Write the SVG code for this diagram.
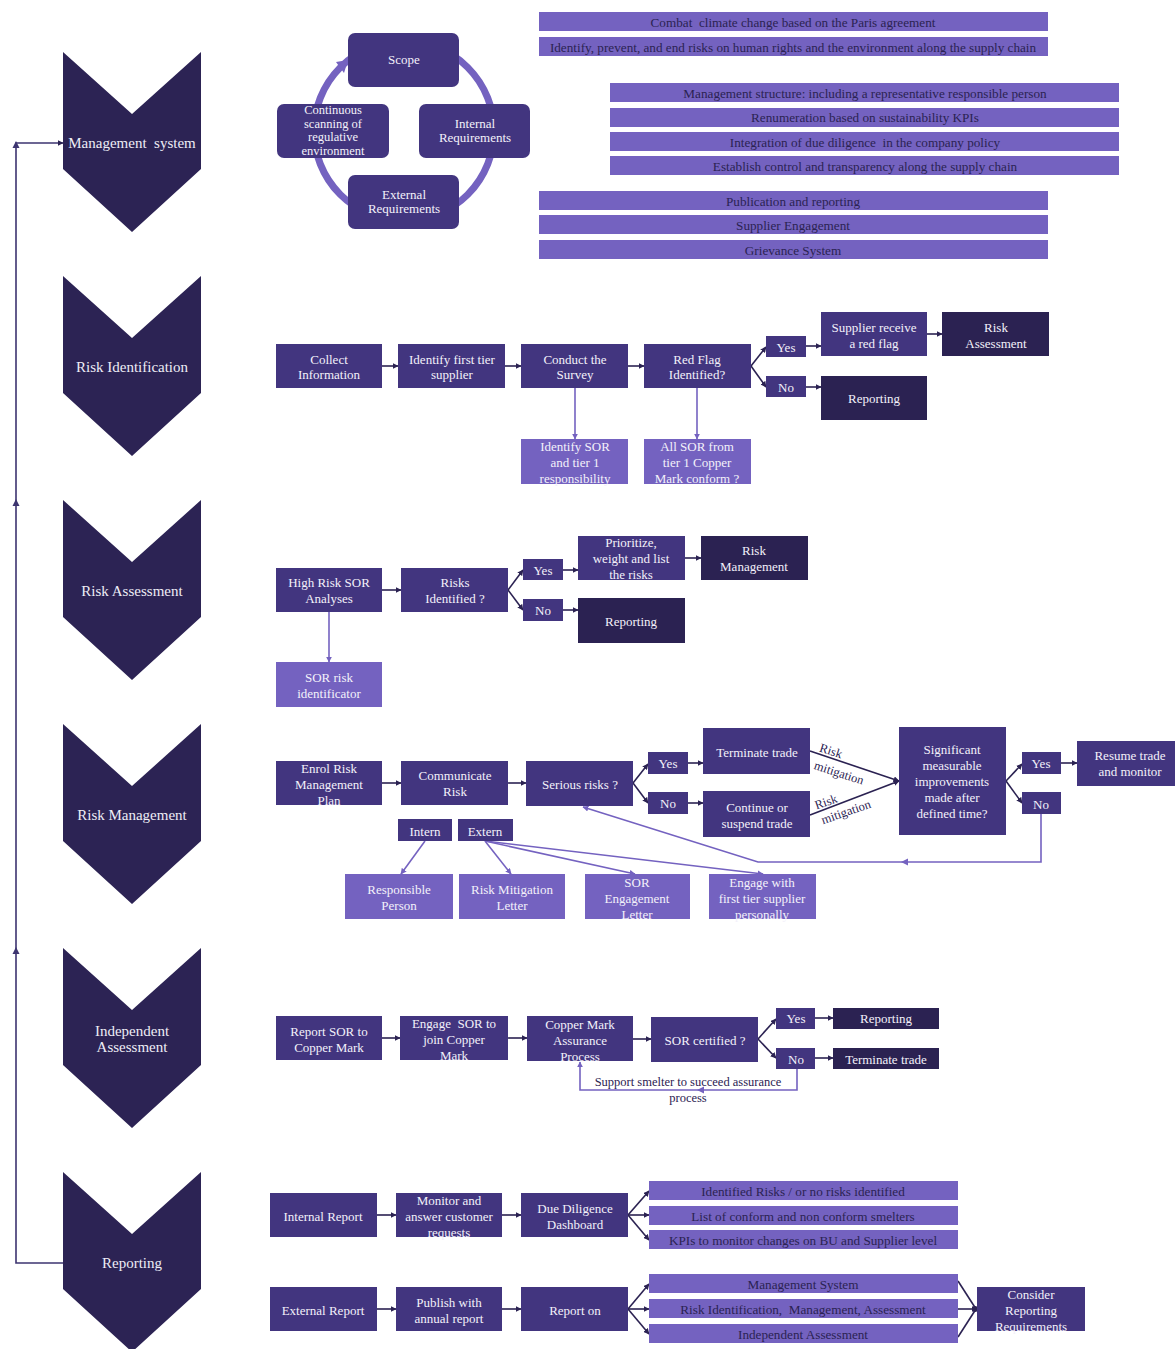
<svg xmlns="http://www.w3.org/2000/svg" width="1175" height="1349" viewBox="0 0 1175 1349">
<style>
.ch{fill:#2c2354}
.ct{font-family:"Liberation Serif","Times New Roman",serif;font-size:15px;fill:#eeedf6;text-anchor:middle;dominant-baseline:central}
.n{fill:#42357f}
.d{fill:#2b2252}
.l{fill:#7462c0}
.t{font-family:"Liberation Serif","Times New Roman",serif;font-size:13px;fill:#f3f1fa;text-anchor:middle;dominant-baseline:central}
.bt{font-family:"Liberation Serif","Times New Roman",serif;font-size:13.2px;fill:#2b2252;text-anchor:middle;dominant-baseline:central}
.lab{font-family:"Liberation Serif","Times New Roman",serif;font-size:12.5px;fill:#2b2252;text-anchor:middle;dominant-baseline:central}
.c{stroke:#2b2252;stroke-width:1.6;fill:none;marker-end:url(#a)}
.cn{stroke:#2b2252;stroke-width:1.6;fill:none}
.cl{stroke:#7462c0;stroke-width:1.6;fill:none;marker-end:url(#al)}
.cln{stroke:#7462c0;stroke-width:1.6;fill:none}
.fb{stroke:#3d3470;stroke-width:1.6;fill:none;marker-end:url(#a)}
</style>
<defs>
<marker id="a" viewBox="0 0 10 10" refX="9" refY="5" markerWidth="6" markerHeight="6" markerUnits="userSpaceOnUse" orient="auto"><path d="M0,0 L10,5 L0,10 Z" fill="#2b2252"/></marker>
<marker id="al" viewBox="0 0 10 10" refX="9" refY="5" markerWidth="6" markerHeight="6" markerUnits="userSpaceOnUse" orient="auto"><path d="M0,0 L10,5 L0,10 Z" fill="#7462c0"/></marker>
</defs>
<rect width="1175" height="1349" fill="#ffffff"/>

<!-- Chevrons -->
<g id="chev-management-system"><path class="ch" d="M63,52 L132,114 L201,52 V169 L132,232 L63,169 Z"/><text class="ct" x="132" y="143">Management&#160; system</text></g>
<g id="chev-risk-identification"><path class="ch" d="M63,276 L132,338 L201,276 V393 L132,456 L63,393 Z"/><text class="ct" x="132" y="367">Risk Identification</text></g>
<g id="chev-risk-assessment"><path class="ch" d="M63,500 L132,562 L201,500 V617 L132,680 L63,617 Z"/><text class="ct" x="132" y="591">Risk Assessment</text></g>
<g id="chev-risk-management"><path class="ch" d="M63,724 L132,786 L201,724 V841 L132,904 L63,841 Z"/><text class="ct" x="132" y="815">Risk Management</text></g>
<g id="chev-independent-assessment"><path class="ch" d="M63,948 L132,1010 L201,948 V1065 L132,1128 L63,1065 Z"/><text class="ct" x="132" y="1031">Independent</text><text class="ct" x="132" y="1047">Assessment</text></g>
<g id="chev-reporting"><path class="ch" d="M63,1172 L132,1234 L201,1172 V1289 L132,1352 L63,1289 Z"/><text class="ct" x="132" y="1263">Reporting</text></g>

<!-- Connectors -->
<g id="connectors">
<path class="fb" d="M63,1263 H16 V143 H63"/>
<path d="M16,499 L12.5,506 L19.5,506 Z" fill="#3d3470"/>
<path d="M16,947 L12.5,954 L19.5,954 Z" fill="#3d3470"/>
<path d="M16,141 L12.5,148 L19.5,148 Z" fill="#3d3470"/>

<circle cx="404" cy="131" r="90" fill="none" stroke="#7462c0" stroke-width="7"/>
<path d="M348,60 L336,62 L344,73 Z" fill="#7462c0"/>

<!-- Risk identification -->
<path class="c" d="M382,366 H398"/>
<path class="c" d="M505,366 H521"/>
<path class="c" d="M628,366 H644"/>
<path class="c" d="M751,366 L766,347"/>
<path class="c" d="M751,366 L766,387"/>
<path class="c" d="M806,346 H821"/>
<path class="c" d="M927,334 H942"/>
<path class="c" d="M806,387 H821"/>
<path class="cl" d="M575,388 V439"/>
<path class="cl" d="M697,388 V439"/>

<!-- Risk assessment -->
<path class="c" d="M382,590 H401"/>
<path class="c" d="M508,590 L523,570"/>
<path class="c" d="M508,590 L523,610"/>
<path class="c" d="M563,570 H578"/>
<path class="c" d="M685,558 H701"/>
<path class="c" d="M563,610 H578"/>
<path class="cl" d="M329,612 V662"/>

<!-- Risk management -->
<path class="c" d="M382,783 H401"/>
<path class="c" d="M508,783 H526"/>
<path class="c" d="M633,783 L648,764"/>
<path class="c" d="M633,783 L648,803"/>
<path class="c" d="M688,763 H703"/>
<path class="c" d="M688,803 H703"/>
<path class="c" d="M810,751 L899,781"/>
<path class="c" d="M810,815 L899,781"/>
<path class="c" d="M1006,781 L1022,764"/>
<path class="c" d="M1006,781 L1022,803"/>
<path class="c" d="M1061,763 H1077"/>
<path class="cl" d="M1041,814 V862 H758 L583,807"/>
<path d="M901,862 L908,858.5 L908,865.5 Z" fill="#7462c0"/>
<path class="cl" d="M425,841 L401,874"/>
<path class="cl" d="M485,841 L511,874"/>
<path class="cl" d="M485,841 L635,874"/>
<path class="cl" d="M485,841 L763,874"/>

<!-- Independent assessment -->
<path class="c" d="M382,1038 H400"/>
<path class="c" d="M508,1038 H527"/>
<path class="c" d="M633,1039 H651"/>
<path class="c" d="M758,1039 L776,1019"/>
<path class="c" d="M758,1039 L776,1058"/>
<path class="c" d="M815,1018 H833"/>
<path class="c" d="M815,1058 H833"/>
<path class="cl" d="M797,1068 V1090 H580 V1062"/>
<path d="M697,1090 L704,1086.5 L704,1093.5 Z" fill="#7462c0"/>

<!-- Reporting -->
<path class="c" d="M377,1215 H396"/>
<path class="c" d="M502,1215 H521"/>
<path class="c" d="M628,1215 L649,1191"/>
<path class="c" d="M628,1215 H649"/>
<path class="c" d="M628,1215 L649,1240"/>
<path class="c" d="M377,1309 H396"/>
<path class="c" d="M502,1309 H521"/>
<path class="c" d="M628,1309 L649,1284"/>
<path class="c" d="M628,1309 H649"/>
<path class="c" d="M628,1309 L649,1334"/>
<path class="cn" d="M958,1281 L976,1309"/>
<path class="c" d="M958,1309 H977"/>
<path class="cn" d="M958,1337 L976,1309"/>
<circle cx="975" cy="1309" r="3" fill="#2b2252"/>
</g>

<!-- Management system cycle -->
<g id="n-scope"><rect class="n" x="348" y="33" width="111" height="54" rx="7"/><text class="t" x="404" y="59">Scope</text></g>
<g id="n-continuous"><rect class="n" x="277" y="104" width="112" height="54" rx="7"/><text class="t" x="333" y="110" style="font-size:12.5px">Continuous</text><text class="t" x="333" y="124" style="font-size:12.5px">scanning of</text><text class="t" x="333" y="137" style="font-size:12.5px">regulative</text><text class="t" x="333" y="151" style="font-size:12.5px">environment</text></g>
<g id="n-internal"><rect class="n" x="419" y="104" width="111" height="54" rx="7"/><text class="t" x="475" y="123">Internal</text><text class="t" x="475" y="137">Requirements</text></g>
<g id="n-external"><rect class="n" x="348" y="175" width="111" height="54" rx="7"/><text class="t" x="404" y="194">External</text><text class="t" x="404" y="208">Requirements</text></g>

<!-- Bars -->
<g id="bar-paris"><rect class="l" x="539" y="12" width="509" height="19"/><text class="bt" x="793" y="22">Combat&#160; climate change based on the Paris agreement</text></g>
<g id="bar-human-rights"><rect class="l" x="539" y="37" width="509" height="19"/><text class="bt" x="793" y="47">Identify, prevent, and end risks on human rights and the environment along the supply chain</text></g>
<g id="bar-structure"><rect class="l" x="610" y="83" width="509" height="19"/><text class="bt" x="865" y="93">Management structure: including a representative responsible person</text></g>
<g id="bar-renumeration"><rect class="l" x="610" y="108" width="509" height="19"/><text class="bt" x="865" y="117">Renumeration based on sustainability KPIs</text></g>
<g id="bar-integration"><rect class="l" x="610" y="132" width="509" height="19"/><text class="bt" x="865" y="142">Integration of due diligence&#160; in the company policy</text></g>
<g id="bar-control"><rect class="l" x="610" y="156" width="509" height="19"/><text class="bt" x="865" y="166">Establish control and transparency along the supply chain</text></g>
<g id="bar-publication"><rect class="l" x="539" y="191" width="509" height="19"/><text class="bt" x="793" y="201">Publication and reporting</text></g>
<g id="bar-supplier"><rect class="l" x="539" y="215" width="509" height="19"/><text class="bt" x="793" y="225">Supplier Engagement</text></g>
<g id="bar-grievance"><rect class="l" x="539" y="240" width="509" height="19"/><text class="bt" x="793" y="250">Grievance System</text></g>

<!-- Risk identification nodes -->
<g id="ri-collect"><rect class="n" x="276" y="344" width="106" height="44"/><text class="t" x="329" y="359">Collect</text><text class="t" x="329" y="374">Information</text></g>
<g id="ri-identify"><rect class="n" x="398" y="344" width="107" height="44"/><text class="t" x="452" y="359">Identify first tier</text><text class="t" x="452" y="374">supplier</text></g>
<g id="ri-survey"><rect class="n" x="521" y="344" width="107" height="44"/><text class="t" x="575" y="359">Conduct the</text><text class="t" x="575" y="374">Survey</text></g>
<g id="ri-redflag"><rect class="n" x="644" y="344" width="107" height="44"/><text class="t" x="697" y="359">Red Flag</text><text class="t" x="697" y="374">Identified?</text></g>
<g id="ri-yes"><rect class="n" x="766" y="336" width="40" height="21"/><text class="t" x="786" y="347">Yes</text></g>
<g id="ri-no"><rect class="n" x="766" y="376" width="40" height="21"/><text class="t" x="786" y="387">No</text></g>
<g id="ri-supplier"><rect class="n" x="821" y="312" width="106" height="44"/><text class="t" x="874" y="327">Supplier receive</text><text class="t" x="874" y="343">a red flag</text></g>
<g id="ri-riskassessment"><rect class="d" x="942" y="312" width="107" height="44"/><text class="t" x="996" y="327">Risk</text><text class="t" x="996" y="343">Assessment</text></g>
<g id="ri-reporting"><rect class="d" x="821" y="376" width="106" height="44"/><text class="t" x="874" y="398">Reporting</text></g>
<g id="ri-sor"><rect class="l" x="521" y="439" width="107" height="45"/><text class="t" x="575" y="446">Identify SOR</text><text class="t" x="575" y="462">and tier 1</text><text class="t" x="575" y="478">responsibility</text></g>
<g id="ri-allsor"><rect class="l" x="644" y="439" width="107" height="45"/><text class="t" x="697" y="446">All SOR from</text><text class="t" x="697" y="462">tier 1 Copper</text><text class="t" x="697" y="478">Mark conform ?</text></g>

<!-- Risk assessment nodes -->
<g id="ra-highrisk"><rect class="n" x="276" y="568" width="106" height="44"/><text class="t" x="329" y="582">High Risk SOR</text><text class="t" x="329" y="598">Analyses</text></g>
<g id="ra-identified"><rect class="n" x="401" y="568" width="107" height="44"/><text class="t" x="455" y="582">Risks</text><text class="t" x="455" y="598">Identified ?</text></g>
<g id="ra-yes"><rect class="n" x="523" y="559" width="40" height="21"/><text class="t" x="543" y="570">Yes</text></g>
<g id="ra-no"><rect class="n" x="523" y="599" width="40" height="22"/><text class="t" x="543" y="610">No</text></g>
<g id="ra-prioritize"><rect class="n" x="578" y="536" width="107" height="44"/><text class="t" x="631" y="542">Prioritize,</text><text class="t" x="631" y="558">weight and list</text><text class="t" x="631" y="574">the risks</text></g>
<g id="ra-riskmanagement"><rect class="d" x="701" y="536" width="107" height="44"/><text class="t" x="754" y="550">Risk</text><text class="t" x="754" y="566">Management</text></g>
<g id="ra-reporting"><rect class="d" x="578" y="598" width="107" height="45"/><text class="t" x="631" y="621">Reporting</text></g>
<g id="ra-identificator"><rect class="l" x="276" y="662" width="106" height="45"/><text class="t" x="329" y="677">SOR risk</text><text class="t" x="329" y="693">identificator</text></g>

<!-- Risk management nodes -->
<g id="rm-enrol"><rect class="n" x="276" y="761" width="106" height="44"/><text class="t" x="329" y="768">Enrol Risk</text><text class="t" x="329" y="784">Management</text><text class="t" x="329" y="800">Plan</text></g>
<g id="rm-communicate"><rect class="n" x="401" y="761" width="107" height="44"/><text class="t" x="455" y="775">Communicate</text><text class="t" x="455" y="791">Risk</text></g>
<g id="rm-serious"><rect class="n" x="526" y="761" width="107" height="45"/><text class="t" x="580" y="784">Serious risks ?</text></g>
<g id="rm-yes"><rect class="n" x="648" y="752" width="40" height="22"/><text class="t" x="668" y="763">Yes</text></g>
<g id="rm-no"><rect class="n" x="648" y="792" width="40" height="22"/><text class="t" x="668" y="803">No</text></g>
<g id="rm-terminate"><rect class="n" x="703" y="728" width="107" height="46"/><text class="t" x="757" y="752">Terminate trade</text></g>
<g id="rm-continue"><rect class="n" x="703" y="791" width="107" height="46"/><text class="t" x="757" y="807">Continue or</text><text class="t" x="757" y="823">suspend trade</text></g>
<g id="rm-intern"><rect class="n" x="398" y="819" width="54" height="22"/><text class="t" x="425" y="831">Intern</text></g>
<g id="rm-extern"><rect class="n" x="458" y="819" width="55" height="22"/><text class="t" x="485" y="831">Extern</text></g>
<g id="rm-responsible"><rect class="l" x="345" y="874" width="108" height="45"/><text class="t" x="399" y="889">Responsible</text><text class="t" x="399" y="905">Person</text></g>
<g id="rm-letter"><rect class="l" x="459" y="874" width="106" height="45"/><text class="t" x="512" y="889">Risk Mitigation</text><text class="t" x="512" y="905">Letter</text></g>
<g id="rm-sorletter"><rect class="l" x="585" y="874" width="105" height="45"/><text class="t" x="637" y="882">SOR</text><text class="t" x="637" y="898">Engagement</text><text class="t" x="637" y="914">Letter</text></g>
<g id="rm-engage"><rect class="l" x="709" y="874" width="107" height="45"/><text class="t" x="762" y="882">Engage with</text><text class="t" x="762" y="898">first tier supplier</text><text class="t" x="762" y="914">personally</text></g>
<g id="rm-significant"><rect class="n" x="899" y="727" width="107" height="108"/><text class="t" x="952" y="749">Significant</text><text class="t" x="952" y="765">measurable</text><text class="t" x="952" y="781">improvements</text><text class="t" x="952" y="797">made after</text><text class="t" x="952" y="813">defined time?</text></g>
<g id="rm-yes2"><rect class="n" x="1022" y="752" width="39" height="22"/><text class="t" x="1041" y="763">Yes</text></g>
<g id="rm-no2"><rect class="n" x="1022" y="792" width="39" height="22"/><text class="t" x="1041" y="804">No</text></g>
<g id="rm-resume"><rect class="n" x="1077" y="741" width="98" height="45"/><text class="t" x="1130" y="755">Resume trade</text><text class="t" x="1130" y="771">and monitor</text></g>
<g id="rm-labels">
<text class="lab" transform="translate(831,751) rotate(18)">Risk</text>
<text class="lab" transform="translate(839,773) rotate(18)">mitigation</text>
<text class="lab" transform="translate(826,802) rotate(-19)">Risk</text>
<text class="lab" transform="translate(846,812) rotate(-19)">mitigation</text>
</g>

<!-- Independent assessment nodes -->
<g id="ia-report"><rect class="n" x="276" y="1016" width="106" height="44"/><text class="t" x="329" y="1031">Report SOR to</text><text class="t" x="329" y="1047">Copper Mark</text></g>
<g id="ia-engage"><rect class="n" x="400" y="1016" width="108" height="44"/><text class="t" x="454" y="1023">Engage&#160; SOR to</text><text class="t" x="454" y="1039">join Copper</text><text class="t" x="454" y="1055">Mark</text></g>
<g id="ia-process"><rect class="n" x="527" y="1016" width="106" height="45"/><text class="t" x="580" y="1024">Copper Mark</text><text class="t" x="580" y="1040">Assurance</text><text class="t" x="580" y="1056">Process</text></g>
<g id="ia-certified"><rect class="n" x="651" y="1017" width="107" height="45"/><text class="t" x="705" y="1040">SOR certified ?</text></g>
<g id="ia-yes"><rect class="n" x="776" y="1008" width="39" height="21"/><text class="t" x="796" y="1018">Yes</text></g>
<g id="ia-no"><rect class="n" x="776" y="1048" width="39" height="21"/><text class="t" x="796" y="1059">No</text></g>
<g id="ia-reporting"><rect class="d" x="833" y="1008" width="106" height="21"/><text class="t" x="886" y="1018">Reporting</text></g>
<g id="ia-terminate"><rect class="d" x="833" y="1048" width="106" height="21"/><text class="t" x="886" y="1059">Terminate trade</text></g>
<g id="ia-label"><text class="lab" x="688" y="1082">Support smelter to succeed assurance</text><text class="lab" x="688" y="1098">process</text></g>

<!-- Reporting nodes -->
<g id="rp-internal"><rect class="n" x="270" y="1193" width="107" height="44"/><text class="t" x="323" y="1216">Internal Report</text></g>
<g id="rp-monitor"><rect class="n" x="396" y="1193" width="106" height="44"/><text class="t" x="449" y="1200">Monitor and</text><text class="t" x="449" y="1216">answer customer</text><text class="t" x="449" y="1232">requests</text></g>
<g id="rp-dashboard"><rect class="n" x="521" y="1193" width="107" height="44"/><text class="t" x="575" y="1208">Due Diligence</text><text class="t" x="575" y="1224">Dashboard</text></g>
<g id="rp-bar-risks"><rect class="l" x="649" y="1181" width="309" height="19"/><text class="bt" x="803" y="1191">Identified Risks / or no risks identified</text></g>
<g id="rp-bar-list"><rect class="l" x="649" y="1206" width="309" height="19"/><text class="bt" x="803" y="1216">List of conform and non conform smelters</text></g>
<g id="rp-bar-kpis"><rect class="l" x="649" y="1230" width="309" height="19"/><text class="bt" x="803" y="1240">KPIs to monitor changes on BU and Supplier level</text></g>
<g id="rp-external"><rect class="n" x="270" y="1287" width="107" height="44"/><text class="t" x="323" y="1310">External Report</text></g>
<g id="rp-publish"><rect class="n" x="396" y="1287" width="106" height="44"/><text class="t" x="449" y="1302">Publish with</text><text class="t" x="449" y="1318">annual report</text></g>
<g id="rp-reporton"><rect class="n" x="521" y="1287" width="107" height="44"/><text class="t" x="575" y="1310">Report on</text></g>
<g id="rp-bar-ms"><rect class="l" x="649" y="1274" width="309" height="19"/><text class="bt" x="803" y="1284">Management System</text></g>
<g id="rp-bar-rima"><rect class="l" x="649" y="1299" width="309" height="19"/><text class="bt" x="803" y="1309">Risk Identification,&#160; Management, Assessment</text></g>
<g id="rp-bar-ia"><rect class="l" x="649" y="1324" width="309" height="19"/><text class="bt" x="803" y="1334">Independent Assessment</text></g>
<g id="rp-consider"><rect class="n" x="977" y="1287" width="108" height="44"/><text class="t" x="1031" y="1294">Consider</text><text class="t" x="1031" y="1310">Reporting</text><text class="t" x="1031" y="1326">Requirements</text></g>
</svg>
